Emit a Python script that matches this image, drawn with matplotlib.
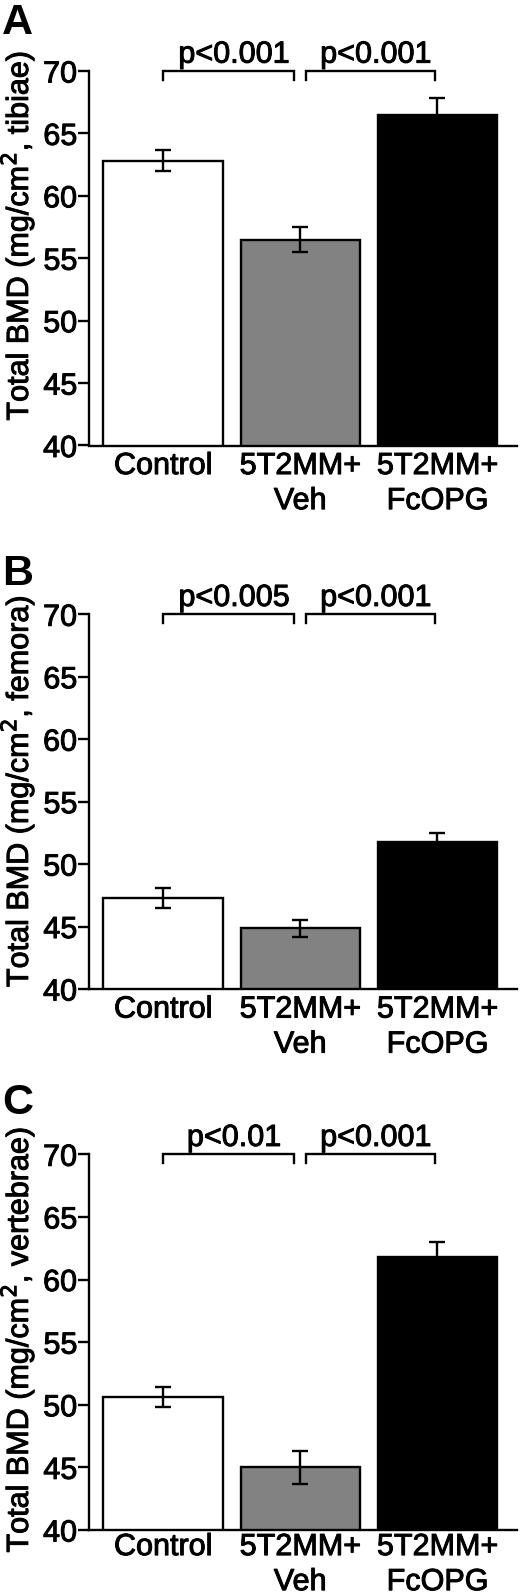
import matplotlib
matplotlib.use("Agg")
import matplotlib.pyplot as plt
import matplotlib.patheffects as pe
import numpy as np

plt.rcParams['font.family'] = ['Liberation Sans', 'DejaVu Sans']

categories = ["Control", "5T2MM+\nVeh", "5T2MM+\nFcOPG"]
bar_colors = ["white", "#828282", "black"]

tibiae_mean = [62.8, 56.5, 66.5]
tibiae_err = [0.85, 1.0, 1.3]
femora_mean = [47.3, 44.85, 51.75]
femora_err = [0.8, 0.7, 0.7]
vertebrae_mean = [50.6, 45.0, 61.8]
vertebrae_err = [0.8, 1.3, 1.2]

panel_letters = ["A", "B", "C"]
ylabels = ["Total BMD (mg/cm$^2$, tibiae)",
           "Total BMD (mg/cm$^2$, femora)",
           "Total BMD (mg/cm$^2$, vertebrae)"]
pvals = [["p<0.001", "p<0.001"],
         ["p<0.005", "p<0.001"],
         ["p<0.01", "p<0.001"]]
yticks = [40, 45, 50, 55, 60, 65, 70]

W, H = 520, 1595
fig = plt.figure(figsize=(W / 100, H / 100), dpi=100)

# axes boxes in pixels: (left, right, top, bottom)
boxes = [(89, 517, 71, 445.5), (89, 517, 614.3, 989), (89, 517, 1154.3, 1530)]
letter_tops = [3, 554, 1083]
label_centers = [236, 791.5, 1340]
xpads = [4, 4, 1.5]

means = [tibiae_mean, femora_mean, vertebrae_mean]
errs = [tibiae_err, femora_err, vertebrae_err]

FS = 22
heavy = [pe.withStroke(linewidth=0.7, foreground='black')]
for k in range(3):
    l, r, t, b = boxes[k]
    ax = fig.add_axes([l / W, (H - b) / H, (r - l) / W, (b - t) / H])
    x = np.arange(len(categories))
    ax.bar(x, means[k], width=0.868, color=bar_colors, edgecolor='black',
           linewidth=1.7, zorder=2)
    ax.errorbar(x, means[k], yerr=errs[k], fmt='none', ecolor='black',
                elinewidth=1.7, capsize=5.5, capthick=1.7, zorder=3)
    ax.set_ylim(40, 70)
    ax.set_xlim(-0.539, 2.58)
    ax.set_yticks(yticks)
    ax.set_yticklabels([str(v) for v in yticks], fontsize=FS)
    ax.set_xticks(x)
    ax.set_xticklabels(categories, fontsize=FS, linespacing=1.22)
    ax.tick_params(axis='y', direction='out', length=8, width=1.7, pad=0.5)
    ax.tick_params(axis='x', length=0, pad=xpads[k])
    for lab in ax.get_xticklabels() + ax.get_yticklabels():
        lab.set_path_effects(heavy)
    for s in ['top', 'right']:
        ax.spines[s].set_visible(False)
    for s in ['left', 'bottom']:
        ax.spines[s].set_linewidth(1.7)

    # significance brackets
    drop = 0.72
    pairs = [(0, 0.955), (1.042, 1.98)]
    for (x1, x2), ptxt in zip(pairs, pvals[k]):
        ax.plot([x1, x1, x2, x2], [70 - drop, 70, 70, 70 - drop], color='black',
                lw=1.7, clip_on=False, solid_joinstyle='miter', zorder=4)
        ax.annotate(ptxt, xy=((x1 + x2) / 2, 70), xytext=(4, 6),
                    textcoords='offset points', ha='center', va='baseline',
                    fontsize=FS, annotation_clip=False, path_effects=heavy)

    # y label
    fig.text(18 / W, (H - label_centers[k]) / H, ylabels[k], rotation=90,
             ha='center', va='center', fontsize=22, path_effects=heavy)
    # panel letter
    fig.text(2 / W, (H - letter_tops[k]) / H, panel_letters[k], ha='left',
             va='top', fontsize=31, fontweight='bold')

fig.savefig("out.png", dpi=100, facecolor='white')
